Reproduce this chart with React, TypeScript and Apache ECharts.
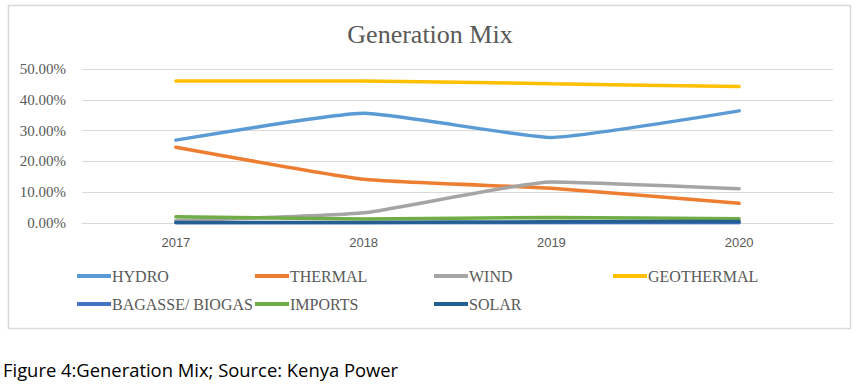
import React, { useEffect, useRef } from "react";
import * as echarts from "echarts";

const years = ["2017", "2018", "2019", "2020"];
const hydro = [26.9, 35.6, 27.8, 36.4];
const thermal = [24.6, 14.2, 11.3, 6.4];
const wind = [0.8, 3.3, 13.3, 11.1];
const geothermal = [46.1, 46.1, 45.2, 44.3];
const bagasse = [0.1, 0.1, 0.1, 0.1];
const imports = [2.0, 1.3, 1.8, 1.4];
const solar = [0.2, 0.2, 0.4, 0.5];

const seriesNames = ["HYDRO", "THERMAL", "WIND", "GEOTHERMAL", "BAGASSE/ BIOGAS", "IMPORTS", "SOLAR"];
const seriesData = [hydro, thermal, wind, geothermal, bagasse, imports, solar];
const colors = ["#5B9BD5", "#ED7D31", "#A5A5A5", "#FFC000", "#4472C4", "#70AD47", "#255E91"];

const title = "Generation Mix";
const caption = "Figure 4:Generation Mix; Source: Kenya Power";

const legendPos = [
  [77, 268], [255, 268], [434, 268], [613, 268],
  [77, 296], [255, 296], [434, 296],
];

export default function App() {
  const ref = useRef<HTMLDivElement>(null);
  useEffect(() => {
    const chart = echarts.init(ref.current!, null, { renderer: "svg" });
    const serif = "'Liberation Serif', serif";
    chart.setOption({
      animation: false,
      backgroundColor: "#ffffff",
      title: {
        text: title,
        left: "center",
        top: 16,
        textStyle: { fontFamily: serif, fontSize: 26, fontWeight: "normal", color: "#595959" },
      },
      legend: seriesNames.map((n, i) => ({
        data: [n],
        left: legendPos[i][0],
        top: legendPos[i][1],
        icon: "rect",
        itemWidth: 34,
        itemHeight: 4,
        itemGap: 0,
        padding: 0,
        selectedMode: false,
        textStyle: { fontFamily: serif, fontSize: 16, color: "#595959", padding: [0, 0, 0, -4], lineHeight: 16 },
      })),
      grid: { left: 82, right: 27, top: 69, bottom: 161 },
      xAxis: {
        type: "category",
        data: years,
        boundaryGap: true,
        axisLine: { show: true, lineStyle: { color: "#d9d9d9", width: 1 } },
        axisTick: { show: false },
        axisLabel: { fontFamily: "'Liberation Sans', sans-serif", fontSize: 13, color: "#595959", margin: 13 },
      },
      yAxis: {
        type: "value",
        min: 0,
        max: 50,
        interval: 10,
        axisLine: { show: false },
        axisTick: { show: false },
        splitLine: { lineStyle: { color: "#d9d9d9", width: 1 } },
        axisLabel: {
          fontFamily: serif,
          fontSize: 15,
          color: "#595959",
          margin: 16,
          formatter: (v: number) => v.toFixed(2) + "%",
        },
      },
      series: seriesNames.map((n, i) => ({
        name: n,
        type: "line",
        data: seriesData[i],
        smooth: 0.15,
        symbol: "none",
        lineStyle: { color: colors[i], width: 3.5, cap: "round" },
        itemStyle: { color: colors[i] },
      })),
      graphic: [
        {
          type: "rect",
          shape: { x: 8.5, y: 5.5, width: 842, height: 323 },
          style: { fill: "none", stroke: "#d9d9d9", lineWidth: 1.5 },
          silent: true,
        },
        {
          type: "text",
          left: 3,
          top: 360,
          style: {
            text: caption,
            fontFamily: "'Open Sans', sans-serif",
            fontSize: 18.4,
            fill: "#000000",
          },
        },
      ],
    });
    return () => chart.dispose();
  }, []);
  return (
    <div
      ref={ref}
      style={{ position: "absolute", left: 0, top: 0, width: 860, height: 384 }}
    />
  );
}
